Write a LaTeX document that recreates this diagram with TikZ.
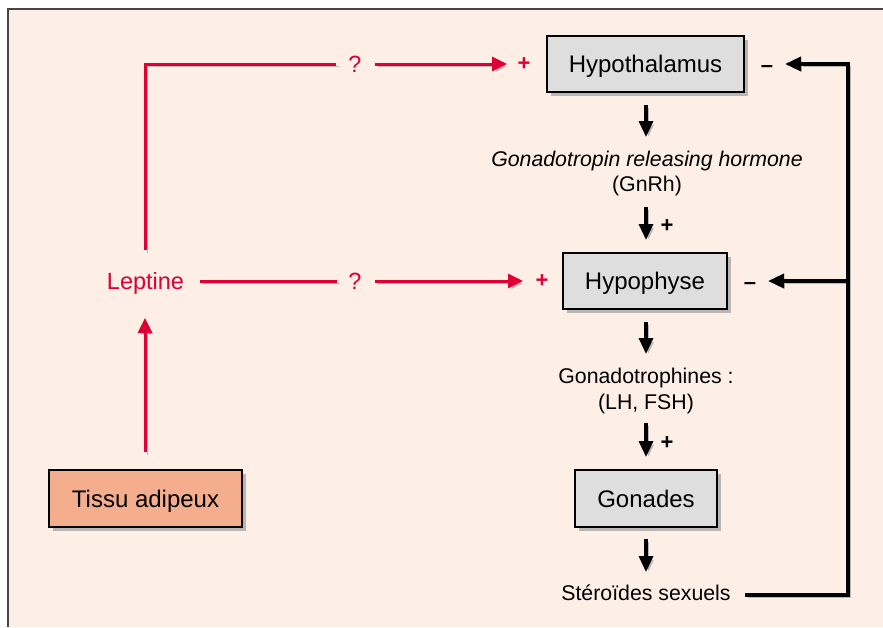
\documentclass[tikz,border=0pt]{standalone}
\usepackage{fontspec}
\setmainfont{Liberation Sans}
\usetikzlibrary{arrows.meta,shadows}
\definecolor{bg}{RGB}{253,238,230}
\definecolor{lred}{RGB}{222,0,52}
\definecolor{boxgray}{RGB}{222,222,222}
\definecolor{salmon}{RGB}{244,174,142}
\definecolor{shadowgray}{RGB}{185,182,180}
\definecolor{framegray}{RGB}{70,70,70}
\begin{document}
\begin{tikzpicture}[x=1pt,y=-1pt,
  box/.style={draw=black, line width=1.3pt, fill=boxgray, minimum height=56pt, inner sep=0pt,
    font=\fontsize{24pt}{28pt}\selectfont, text height=17.2pt, text depth=0pt,
    drop shadow={shadow xshift=4pt, shadow yshift=-4pt, fill=shadowgray, opacity=1}},
  lbl/.style={inner sep=0pt, font=\fontsize{21.3pt}{26pt}\selectfont, text height=15.25pt, text depth=0pt},
  rlbl/.style={inner sep=0pt, text=lred, font=\fontsize{23.5pt}{28pt}\selectfont, text height=16.8pt, text depth=0pt},
  sgn/.style={inner sep=0pt, font=\fontsize{22pt}{26pt}\selectfont\bfseries},
  shd/.style={preaction={draw=shadowgray, transform canvas={shift={(2.5,2.5)}}}},
  redline/.style={shd, draw=lred, line width=3pt},
  blkline/.style={shd, draw=black, line width=3.2pt},
  redtip/.style={-{Triangle[length=15pt,width=14pt]}},
  blktip/.style={-{Triangle[length=16pt,width=14pt]}},
]
\useasboundingbox (0,0) rectangle (883,627);
\fill[white] (0,0) rectangle (883,627);
\fill[bg] (8,9) rectangle (883,627);
\draw[framegray, line width=2pt] (8,627) -- (8,9) -- (883,9);

% boxes
\node[box, minimum width=197pt] (hth) at (645.5,64) {Hypothalamus};
\node[box, minimum width=164pt] (hyp) at (645,281) {Hypophyse};
\node[box, minimum width=142pt, minimum height=57pt] (gon) at (646,498.5) {Gonades};
\node[box, fill=salmon, minimum width=193pt, minimum height=57pt] (tis) at (145.5,498.5) {Tissu adipeux};

% labels
\node[lbl, font=\fontsize{21.3pt}{26pt}\selectfont\itshape] (gnrh) at (647,158.5) {Gonadotropin releasing hormone};
\node[lbl] (gnrhab) at (647,183.5) {(GnRh)};
\node[lbl] (gt) at (646,375.7) {Gonadotrophines :};
\node[lbl] (lhfsh) at (646,402) {(LH, FSH)};
\node[lbl] (ster) at (646,592.7) {Stéroïdes sexuels};
\node[rlbl] (lep) at (145.5,281.5) {Leptine};
\node[rlbl] (q1) at (355,64.5) {?};
\node[rlbl] (q2) at (355,281.5) {?};

% signs
\node[sgn, text=lred] (p1) at (524,64) {+};
\node[sgn, text=lred] (p2) at (542,281) {+};
\node[sgn] (p3) at (667,226) {+};
\node[sgn] (p4) at (667,443) {+};
\node[sgn] (m1) at (767,68.5) {–};
\node[sgn] (m2) at (750,286) {–};

% coordinates
\coordinate (lepTop) at (145,250);
\coordinate (corner) at (145,64);
\coordinate (q1L) at (336,64);
\coordinate (q1R) at (375,64);
\coordinate (hthIn) at (507,64);
\coordinate (lepR) at (200,281);
\coordinate (q2L) at (337,281);
\coordinate (q2R) at (375,281);
\coordinate (hypIn) at (523,281);
\coordinate (tisOut) at (145,452);
\coordinate (lepIn) at (145,318);
\coordinate (a1s) at (646,105);
\coordinate (a1e) at (646,137);
\coordinate (a2s) at (646,207);
\coordinate (a2e) at (646,240);
\coordinate (a3s) at (646,322);
\coordinate (a3e) at (646,354);
\coordinate (a4s) at (646,423);
\coordinate (a4e) at (646,457);
\coordinate (a5s) at (646,539);
\coordinate (a5e) at (646,572);
\coordinate (sterR) at (745,595);
\coordinate (fbC) at (848,595);
\coordinate (fbTop) at (848,64);
\coordinate (fbMid) at (848,281);
\coordinate (hthFb) at (785,64);
\coordinate (hypFb) at (768,281);

% red connectors
\draw[redline] (lepTop) -- (corner) -- (q1L);
\draw[redline, redtip] (q1R) -- (hthIn);
\draw[redline] (lepR) -- (q2L);
\draw[redline, redtip] (q2R) -- (hypIn);
\draw[redline, redtip] (tisOut) -- (lepIn);

% black down arrows
\draw[blkline, blktip] (a1s) -- (a1e);
\draw[blkline, blktip] (a2s) -- (a2e);
\draw[blkline, blktip] (a3s) -- (a3e);
\draw[blkline, blktip] (a4s) -- (a4e);
\draw[blkline, blktip] (a5s) -- (a5e);

% feedback (branch first so its shadow stays under the main line)
\draw[blkline, blktip, line width=3.5pt] (fbMid) -- (hypFb);
\draw[blkline, blktip, line width=3.5pt] (sterR) -- (fbC) -- (fbTop) -- (hthFb);
\end{tikzpicture}
\end{document}
